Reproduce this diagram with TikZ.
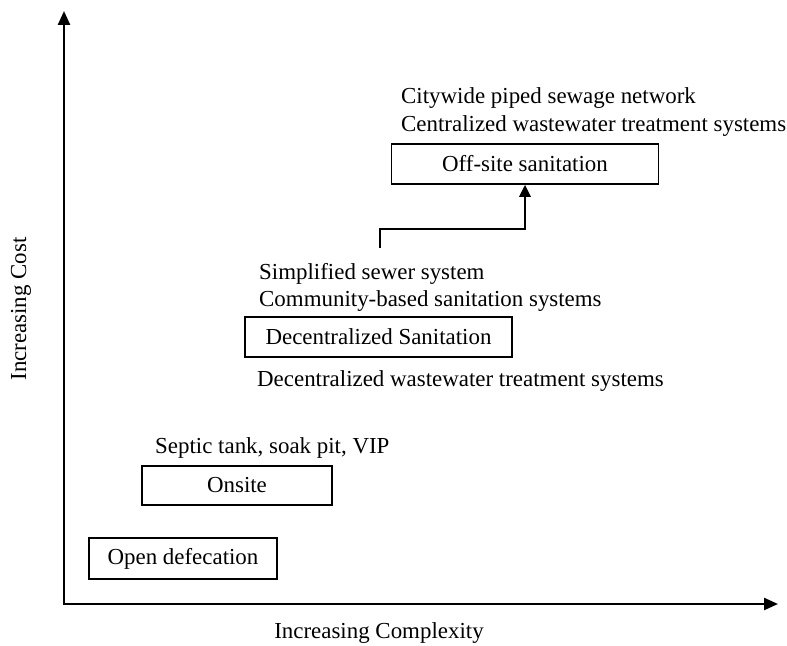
\documentclass[tikz,border=0pt]{standalone}
\usepackage{fontspec}
\setmainfont{Liberation Serif}
\usetikzlibrary{arrows.meta}
\tikzset{
  box/.style={draw=black, line width=1.5bp, minimum height=40bp, inner sep=0pt, font=\fontsize{23}{26}\selectfont},
  lbl/.style={anchor=base west, inner sep=0pt, font=\fontsize{23}{26}\selectfont},
  axis/.style={line width=2.4bp, -{Triangle[length=14bp, width=12bp]}},
  conn/.style={line width=2.8bp, -{Triangle[length=12bp, width=11bp]}},
}
\begin{document}
\begin{tikzpicture}[x=1bp, y=-1bp]
\useasboundingbox (0,0) rectangle (787,646);
% axes
\coordinate (o) at (64,604);
\coordinate (ytop) at (64,11);
\coordinate (xend) at (778,604);
\draw[axis] (64,605.2) -- (ytop);
\draw[axis] (62.8,604) -- (xend);
\node[lbl, anchor=center, rotate=90] (ylab) at (21,309) {Increasing Cost};
\node[lbl, anchor=center] (xlab) at (379,633) {Increasing Complexity};
% boxes
\node[box, minimum width=188bp, minimum height=41bp] (open) at (183,558.5) {Open defecation};
\node[box, minimum width=190bp, minimum height=39bp] (onsite) at (237,485.5) {Onsite};
\node[box, minimum width=267bp] (dec) at (378.5,337) {Decentralized Sanitation};
\node[box, minimum width=267bp] (off) at (525,164) {Off-site sanitation};
% labels
\node[lbl] (t1) at (401,103.5) {Citywide piped sewage network};
\node[lbl] (t2) at (401,131.5) {Centralized wastewater treatment systems};
\node[lbl] (t3) at (259,279.5) {Simplified sewer system};
\node[lbl] (t4) at (259,306.5) {Community-based sanitation systems};
\node[lbl] (t5) at (257,386.5) {Decentralized wastewater treatment systems};
\node[lbl] (t6) at (155,453.5) {Septic tank, soak pit, VIP};
% connector
\coordinate (s) at (380,248);
\coordinate (bend) at (525,229);
\draw[conn] (s) |- (bend) -- (off.south);
\end{tikzpicture}
\end{document}
